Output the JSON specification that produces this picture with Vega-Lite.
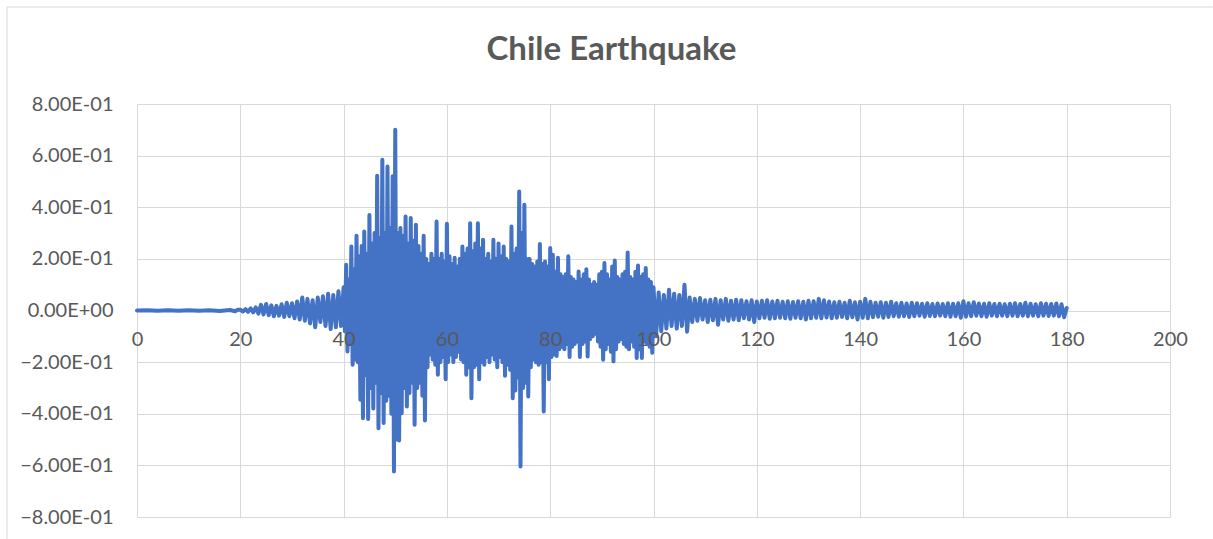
{
  "$schema": "https://vega.github.io/schema/vega-lite/v6.json",
  "width": 1033,
  "height": 413,
  "autosize": {"type": "none"},
  "padding": {"left": 137, "top": 104, "right": 43, "bottom": 22},
  "background": "white",
  "title": {
    "text": "Chile Earthquake",
    "font": "Lato",
    "fontSize": 33,
    "fontWeight": "bold",
    "color": "#595959",
    "anchor": "middle",
    "frame": "group",
    "baseline": "alphabetic",
    "dx": -42,
    "offset": -87
  },
  "config": {
    "view": {"stroke": null},
    "axis": {
      "labelFont": "Lato",
      "labelFontSize": 20,
      "labelColor": "#595959",
      "labelFlush": false,
      "labelOverlap": false,
      "gridColor": "#d9d9d9",
      "gridWidth": 1,
      "gridOpacity": 1,
      "domain": false,
      "ticks": false,
      "title": null
    }
  },
  "resolve": {"axis": {"x": "independent"}},
  "layer": [
    {
      "data": {"values": [{"edge": "left"}]},
      "mark": {"type": "rule", "color": "#d9d9d9", "strokeWidth": 1},
      "encoding": {
        "x": {"datum": -25.17, "type": "quantitative", "axis": null, "scale": {"domain": [0, 200], "nice": false, "zero": false}},
        "y": {
          "datum": 1.1758,
          "type": "quantitative",
          "scale": {"domain": [-0.8, 0.8], "nice": false, "zero": false},
          "axis": {
            "orient": "left",
            "values": [-0.8, -0.6, -0.4, -0.2, 0, 0.2, 0.4, 0.6, 0.8],
            "grid": true,
            "labelPadding": 24,
            "labelExpr": "datum.value == 0 ? '0.00E+00' : format(datum.value * 10, '.2f') + 'E-01'",
            "zindex": 0
          }
        },
        "y2": {"datum": -0.885}
      }
    },
    {
      "data": {"values": [{"edge": "top"}]},
      "mark": {"type": "rule", "color": "#d9d9d9", "strokeWidth": 1},
      "encoding": {
        "x": {
          "datum": -25.17,
          "type": "quantitative",
          "scale": {"domain": [0, 200], "nice": false, "zero": false},
          "axis": {
            "orient": "bottom",
            "values": [0, 20, 40, 60, 80, 100, 120, 140, 160, 180, 200],
            "grid": false,
            "offset": -206.5,
            "labelPadding": 19,
            "zindex": 1
          }
        },
        "x2": {"datum": 208.3},
        "y": {
          "datum": 1.1758,
          "type": "quantitative",
          "scale": {"domain": [-0.8, 0.8], "nice": false, "zero": false},
          "axis": {
            "orient": "left",
            "values": [-0.8, -0.6, -0.4, -0.2, 0, 0.2, 0.4, 0.6, 0.8],
            "grid": true,
            "labelPadding": 24,
            "labelExpr": "datum.value == 0 ? '0.00E+00' : format(datum.value * 10, '.2f') + 'E-01'",
            "zindex": 0
          }
        }
      }
    },
    {
      "data": {
        "values": [
          {"t": 0, "a": 0}, {"t": 2, "a": 0.001}, {"t": 4, "a": -0.001}, {"t": 6, "a": 0.001}, {"t": 8, "a": -0.001},
          {"t": 10, "a": 0.001}, {"t": 12, "a": -0.001}, {"t": 14, "a": 0.001}, {"t": 16, "a": -0.002}, {"t": 18, "a": 0.002},
          {"t": 19, "a": -0.003}, {"t": 19.5, "a": 0.003},
          {"t": 20.0, "a": 0.003}, {"t": 20.5, "a": -0.004}, {"t": 21.0, "a": 0.005}, {"t": 21.5, "a": -0.005},
          {"t": 22.0, "a": 0.008}, {"t": 22.5, "a": -0.007}, {"t": 23.0, "a": 0.012}, {"t": 23.5, "a": -0.012},
          {"t": 24.0, "a": 0.022}, {"t": 24.5, "a": -0.015}, {"t": 25.0, "a": 0.025}, {"t": 25.5, "a": -0.018},
          {"t": 26.0, "a": 0.02}, {"t": 26.5, "a": -0.022}, {"t": 27.0, "a": 0.018}, {"t": 27.5, "a": -0.02},
          {"t": 28.0, "a": 0.024}, {"t": 28.5, "a": -0.025}, {"t": 29.0, "a": 0.03}, {"t": 29.5, "a": -0.022},
          {"t": 30.0, "a": 0.028}, {"t": 30.5, "a": -0.03}, {"t": 31.0, "a": 0.035}, {"t": 31.5, "a": -0.035},
          {"t": 32.0, "a": 0.05}, {"t": 32.5, "a": -0.04}, {"t": 33.0, "a": 0.045}, {"t": 33.5, "a": -0.05},
          {"t": 34.0, "a": 0.04}, {"t": 34.5, "a": -0.065}, {"t": 35.0, "a": 0.05}, {"t": 35.5, "a": -0.045},
          {"t": 36.0, "a": 0.055}, {"t": 36.5, "a": -0.06}, {"t": 37.0, "a": 0.065}, {"t": 37.5, "a": -0.072},
          {"t": 38.0, "a": 0.06}, {"t": 38.5, "a": -0.065}, {"t": 39.0, "a": 0.075}, {"t": 39.5, "a": -0.06},
          {"t": 40.0, "a": 0.09}, {"t": 40.25, "a": -0.08}, {"t": 40.5, "a": 0.177}, {"t": 40.75, "a": -0.159},
          {"t": 41.0, "a": 0.12}, {"t": 41.25, "a": -0.13}, {"t": 41.5, "a": 0.248}, {"t": 41.75, "a": -0.21},
          {"t": 42.0, "a": 0.16}, {"t": 42.25, "a": -0.19}, {"t": 42.5, "a": 0.29}, {"t": 42.75, "a": -0.2},
          {"t": 43.0, "a": 0.21}, {"t": 43.25, "a": -0.346}, {"t": 43.5, "a": 0.25}, {"t": 43.75, "a": -0.417},
          {"t": 44.0, "a": 0.306}, {"t": 44.25, "a": -0.25}, {"t": 44.5, "a": 0.22}, {"t": 44.75, "a": -0.42},
          {"t": 45.0, "a": 0.37}, {"t": 45.25, "a": -0.3}, {"t": 45.5, "a": 0.26}, {"t": 45.75, "a": -0.38},
          {"t": 46.0, "a": 0.3}, {"t": 46.25, "a": -0.28}, {"t": 46.5, "a": 0.522}, {"t": 46.75, "a": -0.456},
          {"t": 47.0, "a": 0.28}, {"t": 47.25, "a": -0.32}, {"t": 47.5, "a": 0.584}, {"t": 47.75, "a": -0.436},
          {"t": 48.0, "a": 0.3}, {"t": 48.25, "a": -0.35}, {"t": 48.5, "a": 0.558}, {"t": 48.75, "a": -0.33},
          {"t": 49.0, "a": 0.32}, {"t": 49.25, "a": -0.4}, {"t": 49.5, "a": 0.52}, {"t": 49.75, "a": -0.624},
          {"t": 50.0, "a": 0.7}, {"t": 50.25, "a": -0.5}, {"t": 50.5, "a": 0.3}, {"t": 50.75, "a": -0.504},
          {"t": 51.0, "a": 0.32}, {"t": 51.25, "a": -0.398}, {"t": 51.5, "a": 0.29}, {"t": 51.75, "a": -0.3},
          {"t": 52.0, "a": 0.364}, {"t": 52.25, "a": -0.372}, {"t": 52.5, "a": 0.26}, {"t": 52.75, "a": -0.32},
          {"t": 53.0, "a": 0.358}, {"t": 53.25, "a": -0.28}, {"t": 53.5, "a": 0.27}, {"t": 53.75, "a": -0.443},
          {"t": 54.0, "a": 0.332}, {"t": 54.25, "a": -0.3}, {"t": 54.5, "a": 0.25}, {"t": 54.75, "a": -0.28},
          {"t": 55.0, "a": 0.22}, {"t": 55.25, "a": -0.33}, {"t": 55.5, "a": 0.29}, {"t": 55.75, "a": -0.426},
          {"t": 56.0, "a": 0.2}, {"t": 56.25, "a": -0.22}, {"t": 56.5, "a": 0.18}, {"t": 56.75, "a": -0.17},
          {"t": 57.0, "a": 0.22}, {"t": 57.25, "a": -0.19}, {"t": 57.5, "a": 0.2}, {"t": 57.75, "a": -0.21},
          {"t": 58.0, "a": 0.345}, {"t": 58.25, "a": -0.249}, {"t": 58.5, "a": 0.2}, {"t": 58.75, "a": -0.2},
          {"t": 59.0, "a": 0.22}, {"t": 59.25, "a": -0.18}, {"t": 59.5, "a": 0.19}, {"t": 59.75, "a": -0.266},
          {"t": 60.0, "a": 0.336}, {"t": 60.25, "a": -0.2}, {"t": 60.5, "a": 0.21}, {"t": 60.75, "a": -0.17},
          {"t": 61.0, "a": 0.18}, {"t": 61.25, "a": -0.2}, {"t": 61.5, "a": 0.204}, {"t": 61.75, "a": -0.18},
          {"t": 62.0, "a": 0.17}, {"t": 62.25, "a": -0.16}, {"t": 62.5, "a": 0.2}, {"t": 62.75, "a": -0.19},
          {"t": 63.0, "a": 0.248}, {"t": 63.25, "a": -0.2}, {"t": 63.5, "a": 0.22}, {"t": 63.75, "a": -0.249},
          {"t": 64.0, "a": 0.24}, {"t": 64.25, "a": -0.22}, {"t": 64.5, "a": 0.338}, {"t": 64.75, "a": -0.34},
          {"t": 65.0, "a": 0.23}, {"t": 65.25, "a": -0.22}, {"t": 65.5, "a": 0.26}, {"t": 65.75, "a": -0.21},
          {"t": 66.0, "a": 0.338}, {"t": 66.25, "a": -0.266}, {"t": 66.5, "a": 0.24}, {"t": 66.75, "a": -0.2},
          {"t": 67.0, "a": 0.274}, {"t": 67.25, "a": -0.21}, {"t": 67.5, "a": 0.2}, {"t": 67.75, "a": -0.18},
          {"t": 68.0, "a": 0.22}, {"t": 68.25, "a": -0.2}, {"t": 68.5, "a": 0.19}, {"t": 68.75, "a": -0.17},
          {"t": 69.0, "a": 0.274}, {"t": 69.25, "a": -0.19}, {"t": 69.5, "a": 0.2}, {"t": 69.75, "a": -0.22},
          {"t": 70.0, "a": 0.26}, {"t": 70.25, "a": -0.18}, {"t": 70.5, "a": 0.21}, {"t": 70.75, "a": -0.2},
          {"t": 71.0, "a": 0.248}, {"t": 71.25, "a": -0.253}, {"t": 71.5, "a": 0.2}, {"t": 71.75, "a": -0.21},
          {"t": 72.0, "a": 0.19}, {"t": 72.25, "a": -0.23}, {"t": 72.5, "a": 0.325}, {"t": 72.75, "a": -0.34},
          {"t": 73.0, "a": 0.22}, {"t": 73.25, "a": -0.31}, {"t": 73.5, "a": 0.24}, {"t": 73.75, "a": -0.26},
          {"t": 74.0, "a": 0.461}, {"t": 74.25, "a": -0.604}, {"t": 74.5, "a": 0.3}, {"t": 74.75, "a": -0.3},
          {"t": 75.0, "a": 0.41}, {"t": 75.25, "a": -0.28}, {"t": 75.5, "a": 0.2}, {"t": 75.75, "a": -0.333},
          {"t": 76.0, "a": 0.2}, {"t": 76.25, "a": -0.22}, {"t": 76.5, "a": 0.18}, {"t": 76.75, "a": -0.19},
          {"t": 77.0, "a": 0.17}, {"t": 77.25, "a": -0.2}, {"t": 77.5, "a": 0.19}, {"t": 77.75, "a": -0.21},
          {"t": 78.0, "a": 0.258}, {"t": 78.25, "a": -0.2}, {"t": 78.5, "a": 0.18}, {"t": 78.75, "a": -0.391},
          {"t": 79.0, "a": 0.19}, {"t": 79.25, "a": -0.2}, {"t": 79.5, "a": 0.17}, {"t": 79.75, "a": -0.266},
          {"t": 80.0, "a": 0.242}, {"t": 80.25, "a": -0.18}, {"t": 80.5, "a": 0.216}, {"t": 80.75, "a": -0.17},
          {"t": 81.0, "a": 0.15}, {"t": 81.25, "a": -0.176}, {"t": 81.5, "a": 0.204}, {"t": 81.75, "a": -0.15},
          {"t": 82.0, "a": 0.14}, {"t": 82.25, "a": -0.14}, {"t": 82.5, "a": 0.13}, {"t": 82.75, "a": -0.15},
          {"t": 83.0, "a": 0.14}, {"t": 83.25, "a": -0.13}, {"t": 83.5, "a": 0.21}, {"t": 83.75, "a": -0.18},
          {"t": 84.0, "a": 0.13}, {"t": 84.25, "a": -0.14}, {"t": 84.5, "a": 0.12}, {"t": 84.75, "a": -0.13},
          {"t": 85.0, "a": 0.11}, {"t": 85.25, "a": -0.12}, {"t": 85.5, "a": 0.151}, {"t": 85.75, "a": -0.18},
          {"t": 86.0, "a": 0.12}, {"t": 86.25, "a": -0.13}, {"t": 86.5, "a": 0.14}, {"t": 86.75, "a": -0.12},
          {"t": 87.0, "a": 0.16}, {"t": 87.25, "a": -0.178}, {"t": 87.5, "a": 0.12}, {"t": 87.75, "a": -0.11},
          {"t": 88.0, "a": 0.1}, {"t": 88.25, "a": -0.1}, {"t": 88.5, "a": 0.11}, {"t": 88.75, "a": -0.09},
          {"t": 89.0, "a": 0.1}, {"t": 89.25, "a": -0.12}, {"t": 89.5, "a": 0.14}, {"t": 89.75, "a": -0.14},
          {"t": 90.0, "a": 0.15}, {"t": 90.25, "a": -0.191}, {"t": 90.5, "a": 0.184}, {"t": 90.75, "a": -0.15},
          {"t": 91.0, "a": 0.14}, {"t": 91.25, "a": -0.13}, {"t": 91.5, "a": 0.12}, {"t": 91.75, "a": -0.16},
          {"t": 92.0, "a": 0.17}, {"t": 92.25, "a": -0.197}, {"t": 92.5, "a": 0.194}, {"t": 92.75, "a": -0.15},
          {"t": 93.0, "a": 0.13}, {"t": 93.25, "a": -0.12}, {"t": 93.5, "a": 0.12}, {"t": 93.75, "a": -0.11},
          {"t": 94.0, "a": 0.14}, {"t": 94.25, "a": -0.13}, {"t": 94.5, "a": 0.15}, {"t": 94.75, "a": -0.14},
          {"t": 95.0, "a": 0.225}, {"t": 95.25, "a": -0.15}, {"t": 95.5, "a": 0.13}, {"t": 95.75, "a": -0.12},
          {"t": 96.0, "a": 0.12}, {"t": 96.25, "a": -0.14}, {"t": 96.5, "a": 0.15}, {"t": 96.75, "a": -0.184},
          {"t": 97.0, "a": 0.174}, {"t": 97.25, "a": -0.15}, {"t": 97.5, "a": 0.13}, {"t": 97.75, "a": -0.184},
          {"t": 98.0, "a": 0.14}, {"t": 98.25, "a": -0.12}, {"t": 98.5, "a": 0.165}, {"t": 98.75, "a": -0.13},
          {"t": 99.0, "a": 0.12}, {"t": 99.25, "a": -0.14}, {"t": 99.5, "a": 0.11}, {"t": 99.75, "a": -0.164},
          {"t": 100.0, "a": 0.09}, {"t": 100.5, "a": -0.1}, {"t": 101.0, "a": 0.07}, {"t": 101.5, "a": -0.08},
          {"t": 102.0, "a": 0.06}, {"t": 102.5, "a": -0.07}, {"t": 103.0, "a": 0.08}, {"t": 103.5, "a": -0.06},
          {"t": 104.0, "a": 0.065}, {"t": 104.5, "a": -0.07}, {"t": 105.0, "a": 0.06}, {"t": 105.5, "a": -0.06},
          {"t": 106.0, "a": 0.1}, {"t": 106.5, "a": -0.082}, {"t": 107.0, "a": 0.05}, {"t": 107.5, "a": -0.045},
          {"t": 108.0, "a": 0.045}, {"t": 108.5, "a": -0.04}, {"t": 109.0, "a": 0.048}, {"t": 109.5, "a": -0.035},
          {"t": 110.0, "a": 0.04}, {"t": 110.5, "a": -0.045}, {"t": 111.0, "a": 0.042}, {"t": 111.5, "a": -0.038},
          {"t": 112.0, "a": 0.045}, {"t": 112.5, "a": -0.055}, {"t": 113.0, "a": 0.04}, {"t": 113.5, "a": -0.035},
          {"t": 114.0, "a": 0.045}, {"t": 114.5, "a": -0.04}, {"t": 115.0, "a": 0.038}, {"t": 115.5, "a": -0.035},
          {"t": 116.0, "a": 0.042}, {"t": 116.5, "a": -0.038}, {"t": 117.0, "a": 0.04}, {"t": 117.5, "a": -0.03},
          {"t": 118.0, "a": 0.036}, {"t": 118.5, "a": -0.035}, {"t": 119.0, "a": 0.04}, {"t": 119.5, "a": -0.045},
          {"t": 120.0, "a": 0.035}, {"t": 120.5, "a": -0.03}, {"t": 121.0, "a": 0.038}, {"t": 121.5, "a": -0.028},
          {"t": 122.0, "a": 0.04}, {"t": 122.5, "a": -0.032}, {"t": 123.0, "a": 0.035}, {"t": 123.5, "a": -0.03},
          {"t": 124.0, "a": 0.038}, {"t": 124.5, "a": -0.028}, {"t": 125.0, "a": 0.034}, {"t": 125.5, "a": -0.03},
          {"t": 126.0, "a": 0.036}, {"t": 126.5, "a": -0.032}, {"t": 127.0, "a": 0.033}, {"t": 127.5, "a": -0.028},
          {"t": 128.0, "a": 0.036}, {"t": 128.5, "a": -0.03}, {"t": 129.0, "a": 0.034}, {"t": 129.5, "a": -0.035},
          {"t": 130.0, "a": 0.038}, {"t": 130.5, "a": -0.03}, {"t": 131.0, "a": 0.036}, {"t": 131.5, "a": -0.028},
          {"t": 132.0, "a": 0.045}, {"t": 132.5, "a": -0.03}, {"t": 133.0, "a": 0.04}, {"t": 133.5, "a": -0.027},
          {"t": 134.0, "a": 0.035}, {"t": 134.5, "a": -0.03}, {"t": 135.0, "a": 0.032}, {"t": 135.5, "a": -0.028},
          {"t": 136.0, "a": 0.034}, {"t": 136.5, "a": -0.025}, {"t": 137.0, "a": 0.03}, {"t": 137.5, "a": -0.03},
          {"t": 138.0, "a": 0.038}, {"t": 138.5, "a": -0.026}, {"t": 139.0, "a": 0.032}, {"t": 139.5, "a": -0.035},
          {"t": 140.0, "a": 0.034}, {"t": 140.5, "a": -0.028}, {"t": 141.0, "a": 0.045}, {"t": 141.5, "a": -0.03},
          {"t": 142.0, "a": 0.034}, {"t": 142.5, "a": -0.026}, {"t": 143.0, "a": 0.03}, {"t": 143.5, "a": -0.024},
          {"t": 144.0, "a": 0.032}, {"t": 144.5, "a": -0.028}, {"t": 145.0, "a": 0.03}, {"t": 145.5, "a": -0.025},
          {"t": 146.0, "a": 0.034}, {"t": 146.5, "a": -0.022}, {"t": 147.0, "a": 0.028}, {"t": 147.5, "a": -0.024},
          {"t": 148.0, "a": 0.03}, {"t": 148.5, "a": -0.022}, {"t": 149.0, "a": 0.027}, {"t": 149.5, "a": -0.025},
          {"t": 150.0, "a": 0.03}, {"t": 150.5, "a": -0.022}, {"t": 151.0, "a": 0.028}, {"t": 151.5, "a": -0.02},
          {"t": 152.0, "a": 0.026}, {"t": 152.5, "a": -0.024}, {"t": 153.0, "a": 0.028}, {"t": 153.5, "a": -0.021},
          {"t": 154.0, "a": 0.025}, {"t": 154.5, "a": -0.022}, {"t": 155.0, "a": 0.027}, {"t": 155.5, "a": -0.02},
          {"t": 156.0, "a": 0.025}, {"t": 156.5, "a": -0.022}, {"t": 157.0, "a": 0.028}, {"t": 157.5, "a": -0.024},
          {"t": 158.0, "a": 0.026}, {"t": 158.5, "a": -0.022}, {"t": 159.0, "a": 0.028}, {"t": 159.5, "a": -0.028},
          {"t": 160.0, "a": 0.036}, {"t": 160.5, "a": -0.024}, {"t": 161.0, "a": 0.028}, {"t": 161.5, "a": -0.022},
          {"t": 162.0, "a": 0.032}, {"t": 162.5, "a": -0.02}, {"t": 163.0, "a": 0.027}, {"t": 163.5, "a": -0.022},
          {"t": 164.0, "a": 0.026}, {"t": 164.5, "a": -0.024}, {"t": 165.0, "a": 0.028}, {"t": 165.5, "a": -0.02},
          {"t": 166.0, "a": 0.025}, {"t": 166.5, "a": -0.022}, {"t": 167.0, "a": 0.026}, {"t": 167.5, "a": -0.02},
          {"t": 168.0, "a": 0.024}, {"t": 168.5, "a": -0.022}, {"t": 169.0, "a": 0.026}, {"t": 169.5, "a": -0.02},
          {"t": 170.0, "a": 0.028}, {"t": 170.5, "a": -0.022}, {"t": 171.0, "a": 0.025}, {"t": 171.5, "a": -0.02},
          {"t": 172.0, "a": 0.03}, {"t": 172.5, "a": -0.022}, {"t": 173.0, "a": 0.026}, {"t": 173.5, "a": -0.02},
          {"t": 174.0, "a": 0.024}, {"t": 174.5, "a": -0.022}, {"t": 175.0, "a": 0.028}, {"t": 175.5, "a": -0.02},
          {"t": 176.0, "a": 0.026}, {"t": 176.5, "a": -0.021}, {"t": 177.0, "a": 0.025}, {"t": 177.5, "a": -0.02},
          {"t": 178.0, "a": 0.027}, {"t": 178.5, "a": -0.022}, {"t": 179.0, "a": 0.024}, {"t": 179.5, "a": -0.026},
          {"t": 180.0, "a": 0.01}
        ]
      },
      "mark": {"type": "line", "color": "#4472C4", "strokeWidth": 4, "strokeJoin": "round", "strokeCap": "round"},
      "encoding": {
        "x": {
          "field": "t",
          "type": "quantitative",
          "scale": {"domain": [0, 200], "nice": false, "zero": false},
          "axis": {
            "orient": "bottom",
            "values": [0, 20, 40, 60, 80, 100, 120, 140, 160, 180, 200],
            "grid": true,
            "labels": false,
            "zindex": 0
          }
        },
        "y": {
          "field": "a",
          "type": "quantitative",
          "scale": {"domain": [-0.8, 0.8], "nice": false, "zero": false},
          "axis": {
            "orient": "left",
            "values": [-0.8, -0.6, -0.4, -0.2, 0, 0.2, 0.4, 0.6, 0.8],
            "grid": true,
            "labelPadding": 24,
            "labelExpr": "datum.value == 0 ? '0.00E+00' : format(datum.value * 10, '.2f') + 'E-01'",
            "zindex": 0
          }
        }
      }
    }
  ]
}
